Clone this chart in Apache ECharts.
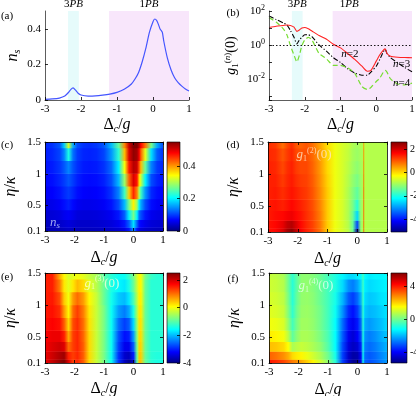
<!DOCTYPE html>
<html>
<head>
<meta charset="utf-8">
<script src="https://cdn.jsdelivr.net/npm/echarts@6/dist/echarts.min.js"></script>
</head>
<body style="margin:0;background:#fff">
<div id="container" style="width:416px;height:396px"></div>
<script>
// ---------- (a) n_s versus detuning ----------
var aX = [-3,-2.8,-2.6,-2.45,-2.35,-2.28,-2.22,-2.15,-2.08,-2,-1.8,-1.6,-1.4,-1.2,-1,-0.8,-0.6,-0.5,-0.4,-0.3,-0.2,-0.1,0,0.05,0.1,0.15,0.2,0.23,0.26,0.3,0.4,0.5,0.6,0.7,0.8,0.9,1];
var aN = [0.004,0.006,0.011,0.022,0.042,0.06,0.068,0.055,0.038,0.028,0.022,0.023,0.027,0.033,0.043,0.06,0.09,0.118,0.155,0.215,0.29,0.38,0.44,0.455,0.447,0.425,0.397,0.39,0.38,0.33,0.235,0.17,0.125,0.098,0.078,0.062,0.05];

// ---------- (b) log10 g1^(n)(0) versus detuning ----------
var bX = [-3,-2.8,-2.6,-2.5,-2.4,-2.3,-2.22,-2.15,-2.08,-2,-1.9,-1.8,-1.6,-1.4,-1.2,-1,-0.8,-0.6,-0.4,-0.25,-0.15,0,0.1,0.2,0.25,0.3,0.4,0.6,0.8,1];
var bLog2 = [1.03,1.1,1.15,1.18,1.15,1.05,0.8,0.88,1.0,1.03,0.95,0.82,0.56,0.35,0.04,-0.17,-0.5,-0.85,-1.25,-1.55,-1.5,-0.95,-0.58,-0.3,-0.23,-0.5,-0.66,-0.72,-0.74,-0.75];
var bLog3 = [1.71,1.5,1.3,1.18,0.85,0.45,0.06,0.3,0.45,0.6,0.6,0.49,0.0,-0.35,-0.75,-1.03,-1.4,-1.65,-1.78,-1.78,-1.6,-1.25,-0.85,-0.4,-0.25,-0.5,-0.75,-1.05,-1.33,-1.58];
var bLog4 = [1.61,1.35,0.95,0.6,-0.04,-0.6,-1.0,-0.6,-0.04,0.3,0.45,0.3,-0.5,-0.8,-1.2,-1.2,-1.35,-1.67,-2.45,-2.62,-2.5,-2.15,-1.95,-1.6,-1.5,-1.6,-2.0,-2.3,-2.35,-2.25];

// shaded resonance windows
var pb3 = [-2.36, -2.06];
var pb1 = [-1.22, 1];

// ---------- maps (c)-(f): rows are eta/kappa, columns are detuning ----------
var ETA = [0.1,0.2,0.35,0.5,0.7,0.9,1.1,1.3,1.5];
var HX = [-3,-2.75,-2.5,-2.35,-2.2,-2.05,-1.9,-1.7,-1.5,-1.25,-1,-0.75,-0.5,-0.3,-0.15,0,0.12,0.19,0.22,0.25,0.4,0.6,0.8,1];

var nsMap = [
  [0.03,0.03,0.032,0.035,0.04,0.035,0.033,0.033,0.034,0.035,0.037,0.04,0.045,0.055,0.08,0.15,0.075,0.055,0.052,0.05,0.042,0.038,0.035,0.034],
  [0.035,0.036,0.04,0.045,0.05,0.045,0.04,0.04,0.04,0.042,0.045,0.05,0.06,0.08,0.12,0.19,0.12,0.08,0.075,0.07,0.058,0.048,0.045,0.043],
  [0.045,0.047,0.052,0.06,0.065,0.058,0.05,0.048,0.048,0.05,0.055,0.062,0.08,0.12,0.2,0.27,0.2,0.13,0.12,0.11,0.08,0.06,0.055,0.052],
  [0.055,0.058,0.065,0.075,0.085,0.072,0.062,0.058,0.058,0.06,0.065,0.078,0.11,0.17,0.27,0.35,0.29,0.2,0.18,0.16,0.11,0.075,0.065,0.06],
  [0.065,0.068,0.078,0.09,0.1,0.088,0.075,0.068,0.066,0.068,0.075,0.095,0.14,0.24,0.37,0.46,0.41,0.3,0.27,0.24,0.15,0.09,0.075,0.07],
  [0.072,0.076,0.088,0.1,0.115,0.1,0.085,0.075,0.073,0.075,0.085,0.11,0.17,0.29,0.43,0.5,0.47,0.37,0.34,0.31,0.2,0.11,0.088,0.078],
  [0.078,0.083,0.097,0.115,0.14,0.112,0.094,0.082,0.08,0.083,0.095,0.125,0.2,0.34,0.47,0.52,0.51,0.44,0.41,0.38,0.26,0.14,0.1,0.088],
  [0.083,0.09,0.105,0.14,0.22,0.13,0.1,0.088,0.086,0.09,0.105,0.15,0.23,0.38,0.5,0.54,0.53,0.49,0.46,0.43,0.33,0.19,0.12,0.095],
  [0.088,0.095,0.115,0.18,0.32,0.16,0.11,0.095,0.092,0.098,0.115,0.17,0.26,0.41,0.51,0.55,0.55,0.52,0.5,0.48,0.42,0.27,0.16,0.11]
];
var g2Map = [
  [1.5,1.6,1.9,2.3,2.5,2.1,1.7,1.4,1.2,0.8,0.1,-0.4,-0.6,-0.8,-1.4,-4.8,-1.1,-0.9,0.9,-0.8,-0.85,-0.85,-0.85,-0.85],
  [1.5,1.6,1.8,2.1,2.2,1.9,1.6,1.35,1.15,0.75,0.1,-0.4,-0.6,-0.85,-1.4,-3.6,-1.1,-0.9,0.9,-0.8,-0.85,-0.85,-0.85,-0.85],
  [1.45,1.55,1.6,1.7,1.75,1.6,1.5,1.3,1.1,0.7,0.1,-0.4,-0.6,-0.9,-1.4,-2.5,-1.1,-0.9,0.9,-0.8,-0.85,-0.85,-0.85,-0.85],
  [1.45,1.5,1.4,1.5,1.6,1.5,1.4,1.25,1.05,0.65,0.1,-0.4,-0.6,-0.9,-1.3,-1.9,-1.1,-0.9,0.9,-0.8,-0.85,-0.85,-0.85,-0.85],
  [1.4,1.45,1.3,1.4,1.5,1.4,1.3,1.2,1.0,0.6,0.1,-0.4,-0.6,-0.9,-1.2,-1.5,-1.1,-0.9,0.9,-0.8,-0.85,-0.85,-0.85,-0.85],
  [1.4,1.4,1.2,1.35,1.45,1.3,1.2,1.15,0.95,0.55,0.05,-0.4,-0.6,-0.85,-1.1,-1.3,-1.05,-0.9,0.8,-0.8,-0.85,-0.85,-0.85,-0.85],
  [1.4,1.35,1.1,1.3,1.4,1.2,1.1,1.1,0.9,0.5,0.0,-0.4,-0.6,-0.8,-1.0,-1.15,-1.0,-0.9,0.7,-0.8,-0.85,-0.85,-0.85,-0.85],
  [1.35,1.3,1.0,1.2,1.35,1.1,1.0,1.05,0.85,0.45,0.0,-0.4,-0.6,-0.75,-0.95,-1.05,-0.95,-0.9,0.6,-0.8,-0.85,-0.85,-0.85,-0.85],
  [1.3,1.2,0.8,1.1,1.3,1.0,0.9,1.0,0.8,0.4,-0.05,-0.4,-0.6,-0.7,-0.9,-1.0,-0.9,-0.9,0.5,-0.8,-0.85,-0.85,-0.85,-0.85]
];
var g3Map = [
  [1.8,2.05,2.35,2.5,1.9,1.3,1.45,1.1,0.3,-0.3,-0.8,-1.5,-2.9,-3.6,-3.9,-3.5,-1.0,0.4,0.5,0.4,-0.9,-1.3,-1.4,-1.4],
  [1.8,2.0,2.2,2.3,1.5,1.3,1.45,1.1,0.3,-0.3,-0.8,-1.5,-2.9,-3.5,-3.6,-3.0,-0.9,0.35,0.45,0.35,-0.9,-1.3,-1.35,-1.35],
  [1.75,1.9,2.0,1.9,1.0,1.3,1.45,1.1,0.3,-0.3,-0.8,-1.5,-2.8,-3.3,-3.3,-2.6,-0.8,0.3,0.4,0.3,-0.9,-1.3,-1.3,-1.3],
  [1.7,1.8,1.8,1.5,0.6,1.3,1.45,1.05,0.3,-0.3,-0.8,-1.5,-2.7,-3.1,-3.0,-2.2,-0.7,0.25,0.35,0.25,-0.9,-1.3,-1.3,-1.3],
  [1.6,1.7,1.6,1.1,0.3,1.2,1.4,1.0,0.25,-0.3,-0.8,-1.5,-2.5,-2.8,-2.6,-1.8,-0.6,0.2,0.3,0.2,-0.9,-1.3,-1.3,-1.3],
  [1.55,1.6,1.4,0.7,0.1,1.0,1.3,0.9,0.2,-0.3,-0.8,-1.5,-2.2,-2.4,-2.1,-1.4,-0.5,0.15,0.25,0.15,-0.9,-1.3,-1.3,-1.3],
  [1.5,1.55,1.2,0.4,0.0,0.7,1.0,0.7,0.1,-0.3,-0.9,-1.45,-1.9,-2.0,-1.7,-1.1,-0.4,0.1,0.2,0.1,-0.9,-1.3,-1.3,-1.3],
  [1.5,1.5,0.9,0.2,-0.1,0.2,0.5,0.3,-0.1,-0.4,-0.9,-1.4,-1.6,-1.7,-1.4,-0.9,-0.3,0.1,0.15,0.05,-0.9,-1.3,-1.3,-1.3],
  [1.5,1.5,0.6,0.1,-0.2,-0.1,0.0,-0.1,-0.3,-0.5,-1.0,-1.3,-1.5,-1.5,-1.2,-0.8,-0.2,0.1,0.1,0.0,-0.8,-1.2,-1.3,-1.3]
];
var g4Map = [
  [4.0,3.8,3.5,3.2,2.9,2.7,2.4,2.0,1.6,1.0,0.3,-0.8,-3.3,-4.6,-5.1,-5.2,-4.2,-1.0,-2.3,-2.9,-3.1,-2.9,-2.6,-2.3],
  [3.2,3.0,2.7,2.4,1.9,1.7,1.6,1.3,1.0,0.6,0.0,-1.0,-3.3,-4.5,-4.9,-4.8,-4.0,-1.0,-2.2,-2.8,-3.0,-2.8,-2.5,-2.2],
  [2.2,2.1,1.9,1.5,0.6,0.8,0.9,0.8,0.6,0.3,-0.3,-1.2,-3.2,-4.3,-4.6,-4.4,-3.6,-0.9,-2.0,-2.6,-2.8,-2.6,-2.3,-2.0],
  [1.7,1.6,1.4,0.8,-0.2,0.3,0.6,0.6,0.45,0.1,-0.4,-1.2,-3.0,-4.1,-4.4,-4.0,-3.2,-0.8,-1.8,-2.4,-2.6,-2.4,-2.1,-1.8],
  [1.4,1.3,1.1,0.4,-0.5,0.1,0.5,0.5,0.35,0.0,-0.5,-1.2,-2.8,-3.8,-4.1,-3.7,-2.8,-0.7,-1.6,-2.1,-2.3,-2.1,-1.9,-1.6],
  [1.2,1.1,0.9,0.2,-0.7,0.0,0.4,0.45,0.3,0.0,-0.5,-1.1,-2.4,-3.5,-3.8,-3.3,-2.4,-0.6,-1.4,-1.8,-2.0,-1.9,-1.7,-1.5],
  [1.1,1.0,0.8,0.1,-0.8,-0.1,0.35,0.4,0.25,-0.1,-0.5,-1.0,-2.0,-3.0,-3.3,-2.8,-2.0,-0.5,-1.2,-1.6,-1.8,-1.7,-1.5,-1.4],
  [1.0,0.9,0.7,0.0,-0.8,-0.2,0.3,0.35,0.2,-0.1,-0.5,-0.9,-1.6,-2.4,-2.6,-2.2,-1.6,-0.5,-1.1,-1.4,-1.6,-1.5,-1.4,-1.3],
  [0.9,0.8,0.6,0.0,-0.7,-0.2,0.3,0.3,0.2,-0.1,-0.5,-0.9,-1.3,-1.6,-1.6,-1.4,-1.2,-0.5,-0.9,-1.2,-1.4,-1.3,-1.3,-1.2]
];

// colour bar ranges and tick labels
var cRange = [0, 0.55], dRange = [-5.1, 2.6], eRange = [-4, 2.5], fRange = [-5.3, 5.6];
var cTicks = [0, 0.2, 0.4], dTicks = [-4, -2, 0, 2], eTicks = [-4, -2, 0, 2], fTicks = [-4, 0, 4];
var dTickX = [-3, -2, -1, 0, 1];
var etaTicks = [0.1, 0.5, 1, 1.5];
var nsTicks = [0, 0.2, 0.4];

var FONT = 'Liberation Serif';

function jet(t) {
  t = Math.max(0, Math.min(1, t));
  function c(v) { return Math.round(Math.max(0, Math.min(1, v)) * 255); }
  return 'rgb(' + c(1.5 - Math.abs(4 * t - 3)) + ',' + c(1.5 - Math.abs(4 * t - 2)) + ',' + c(1.5 - Math.abs(4 * t - 1)) + ')';
}

var chart = echarts.init(document.getElementById('container'));

var grids = [
  { left: 45, top: 11, width: 144, height: 89 },
  { left: 269, top: 11, width: 143, height: 89 },
  { left: 45, top: 142, width: 118, height: 89 },
  { left: 167, top: 142, width: 13, height: 89 },
  { left: 268, top: 142, width: 119, height: 90 },
  { left: 391, top: 142, width: 16, height: 90 },
  { left: 45, top: 273, width: 118, height: 90 },
  { left: 167, top: 273, width: 13, height: 90 },
  { left: 269, top: 273, width: 118, height: 90 },
  { left: 391, top: 273, width: 16, height: 90 }
];
grids.forEach(function (g) { g.outerBoundsMode = 'none'; g.containLabel = false; });

var lbl = { fontFamily: FONT, fontSize: 11, color: '#000', margin: 4 };
var nameRich = {
  i: { fontFamily: FONT, fontSize: 16, fontStyle: 'italic', color: '#000' },
  s: { fontFamily: FONT, fontSize: 10, fontStyle: 'italic', color: '#000', verticalAlign: 'top', padding: [9, 0, 0, 0] }
};
var nameStyle = { fontFamily: FONT, fontSize: 16, color: '#000', rich: nameRich };

function ticks(vals) {
  return { show: true, inside: true, length: 3, customValues: vals, lineStyle: { color: '#000', width: 0.8 } };
}
function line(col) { return { show: true, onZero: false, lineStyle: { color: col || '#000', width: 0.8 } }; }

function xDelta(gi, gap) {
  return {
    gridIndex: gi, type: 'value', min: -3, max: 1, z: 5,
    axisLine: line(), axisTick: ticks(dTickX),
    axisLabel: Object.assign({ customValues: dTickX }, lbl),
    splitLine: { show: false },
    name: 'Δ{s|c}/{i|g}', nameLocation: 'middle', nameGap: gap, nameTextStyle: nameStyle
  };
}
function yEta(gi) {
  return {
    gridIndex: gi, type: 'value', min: 0.1, max: 1.5, z: 5,
    axisLine: line(), axisTick: ticks(etaTicks),
    axisLabel: Object.assign({ customValues: etaTicks }, lbl),
    splitLine: { show: false },
    name: '{i|η}/{i|κ}', nameLocation: 'middle', nameRotate: 90, nameGap: 26, nameTextStyle: nameStyle
  };
}
function xHidden(gi) {
  return { gridIndex: gi, type: 'value', min: 0, max: 1, show: false };
}
function yBar(gi, range, tv) {
  return {
    gridIndex: gi, type: 'value', position: 'right', min: range[0], max: range[1], z: 5,
    axisLine: { show: false, onZero: false }, axisTick: ticks(tv),
    axisLabel: Object.assign({ customValues: tv }, lbl, { fontSize: 10, margin: 3 }),
    splitLine: { show: false }
  };
}
function xTop(gi) {
  return { gridIndex: gi, type: 'value', position: 'top', min: -3, max: 1, z: 5,
    axisLine: line(), axisTick: ticks(dTickX), axisLabel: { show: false }, splitLine: { show: false } };
}
function yRight(gi) {
  return { gridIndex: gi, type: 'value', position: 'right', min: 0.1, max: 1.5, z: 5,
    axisLine: line(), axisTick: ticks(etaTicks), axisLabel: { show: false }, splitLine: { show: false } };
}

var xAxes = [
  xDelta(0, 15), xDelta(1, 15),
  xDelta(2, 17), xHidden(3), xDelta(4, 17), xHidden(5),
  xDelta(6, 16), xHidden(7), xDelta(8, 17), xHidden(9),
  xTop(2), xTop(4), xTop(6), xTop(8)
];
xAxes[0].axisLine = line('#333'); xAxes[1].axisLine = line('#333');

var yAxes = [
  {
    gridIndex: 0, type: 'value', min: 0, max: 0.5, z: 5,
    axisLine: line('#333'), axisTick: ticks(nsTicks),
    axisLabel: Object.assign({ customValues: nsTicks }, lbl),
    splitLine: { show: false },
    name: '{i|n}{s|s}', nameLocation: 'middle', nameRotate: 90, nameGap: 23, nameTextStyle: nameStyle
  },
  {
    gridIndex: 1, type: 'log', min: Math.pow(10, -3.24), max: 100, z: 5,
    axisLine: line('#333'),
    axisTick: { show: true, inside: true, length: 3, lineStyle: { color: '#000', width: 0.8 } },
    axisLabel: Object.assign({}, lbl, {
      formatter: function (v) {
        var l = Math.log10(v), e = Math.round(l);
        return (Math.abs(l - e) < 1e-6 && e % 2 === 0) ? '10{sup|' + e + '}' : '';
      },
      rich: { sup: { fontFamily: FONT, fontSize: 8, color: '#000', verticalAlign: 'top', padding: [0, 0, 6, 0] } }
    }),
    splitLine: { show: false },
    name: '{i|g}{s|1}{p|(}{pi|n}{p|)}(0)', nameLocation: 'middle', nameRotate: 90, nameGap: 29,
    nameTextStyle: { fontFamily: FONT, fontSize: 14, color: '#000', rich: {
      i: { fontFamily: FONT, fontSize: 14, fontStyle: 'italic', color: '#000' },
      s: { fontFamily: FONT, fontSize: 9, color: '#000', verticalAlign: 'top', padding: [8, 0, 0, 0] },
      p: { fontFamily: FONT, fontSize: 9, color: '#000', verticalAlign: 'top', padding: [0, 0, 7, 0] },
      pi: { fontFamily: FONT, fontSize: 9, fontStyle: 'italic', color: '#000', verticalAlign: 'top', padding: [0, 0, 7, 0] }
    } }
  },
  yEta(2), yBar(3, cRange, cTicks), yEta(4), yBar(5, dRange, dTicks),
  yEta(6), yBar(7, eRange, eTicks), yEta(8), yBar(9, fRange, fTicks),
  yRight(2), yRight(4), yRight(6), yRight(8)
];
xAxes.forEach(function (a) { if (a.axisLine) a.axisLine.onZero = false; else a.axisLine = { onZero: false }; });
yAxes.forEach(function (a) { if (a.axisLine) a.axisLine.onZero = false; else a.axisLine = { onZero: false }; });

function bandArea(labelOffset) {
  var pbLabel = {
    show: true, position: 'top', distance: 1, color: '#000', fontFamily: FONT, fontSize: 11,
    rich: { i: { fontFamily: FONT, fontSize: 11, fontStyle: 'italic', color: '#000' } }
  };
  return {
    silent: true,
    data: [
      [{ xAxis: pb3[0], itemStyle: { color: '#e6fbfb' }, label: Object.assign({}, pbLabel, { formatter: '3{i|PB}' }) }, { xAxis: pb3[1] }],
      [{ xAxis: pb1[0], itemStyle: { color: '#f8e6fb' }, label: Object.assign({}, pbLabel, { formatter: '1{i|PB}', offset: [labelOffset, 0] }) }, { xAxis: pb1[1] }]
    ]
  };
}

function nLabel(txt, x, lg) {
  return {
    symbol: 'circle', symbolSize: 0, silent: true,
    label: { show: true, position: 'inside', formatter: '{i|n}=' + txt, color: '#000', fontFamily: FONT, fontSize: 11,
      rich: { i: { fontFamily: FONT, fontSize: 11, fontStyle: 'italic', color: '#000' } } },
    data: [{ coord: [x, Math.pow(10, lg)] }]
  };
}

function toPairs(xs, ys, f) {
  return xs.map(function (x, i) { return [x, f ? f(ys[i]) : ys[i]]; });
}
function pow10(v) { return Math.pow(10, v); }

function mapSeries(gi, rows, range) {
  return {
    type: 'custom', xAxisIndex: gi, yAxisIndex: gi, silent: true, z: 2,
    data: ETA.map(function (e, i) { return [HX[0], e, i]; }),
    renderItem: function (params, api) {
      var i = api.value(2), n = ETA.length;
      var lo = i === 0 ? ETA[0] : (ETA[i - 1] + ETA[i]) / 2;
      var hi = i === n - 1 ? ETA[n - 1] : (ETA[i] + ETA[i + 1]) / 2;
      var p0 = api.coord([HX[0], hi]);
      var p1 = api.coord([HX[HX.length - 1], lo]);
      var span = HX[HX.length - 1] - HX[0];
      var stops = HX.map(function (x, j) {
        return { offset: (x - HX[0]) / span, color: jet((rows[i][j] - range[0]) / (range[1] - range[0])) };
      });
      return {
        type: 'rect',
        shape: { x: p0[0], y: p0[1] - (i === n - 1 ? 0 : 0.6), width: p1[0] - p0[0], height: p1[1] - p0[1] + (i === n - 1 ? 0 : 0.6) },
        style: { fill: { type: 'linear', x: 0, y: 0, x2: 1, y2: 0, colorStops: stops } }
      };
    }
  };
}

function barSeries(gi, range) {
  var stops = [];
  for (var k = 0; k <= 16; k++) stops.push({ offset: k / 16, color: jet(1 - k / 16) });
  return {
    type: 'custom', xAxisIndex: gi, yAxisIndex: gi, silent: true,
    data: [[0, range[0], range[1]]],
    renderItem: function (params, api) {
      var p0 = api.coord([0, api.value(2)]);
      var p1 = api.coord([1, api.value(1)]);
      return {
        type: 'rect',
        shape: { x: p0[0], y: p0[1], width: p1[0] - p0[0], height: p1[1] - p0[1] },
        style: { fill: { type: 'linear', x: 0, y: 0, x2: 0, y2: 1, colorStops: stops }, stroke: '#000', lineWidth: 0.6 }
      };
    }
  };
}

function tag(gi, x, y, text, col) {
  return {
    type: 'scatter', xAxisIndex: gi, yAxisIndex: gi, symbolSize: 0, silent: true, z: 6,
    data: [[x, y]],
    label: {
      show: true, position: 'inside', formatter: text, color: col, fontFamily: FONT, fontSize: 13,
      rich: {
        i: { fontFamily: FONT, fontSize: 13, fontStyle: 'italic', color: col },
        s: { fontFamily: FONT, fontSize: 8, color: col, verticalAlign: 'top', padding: [8, 0, 0, 0] },
        si: { fontFamily: FONT, fontSize: 9, fontStyle: 'italic', color: col, verticalAlign: 'top', padding: [7, 0, 0, 0] },
        p: { fontFamily: FONT, fontSize: 8, color: col, verticalAlign: 'top', padding: [0, 0, 7, 0] }
      }
    }
  };
}

var option = {
  animation: false,
  backgroundColor: '#fff',
  textStyle: { fontFamily: FONT },
  grid: grids,
  xAxis: xAxes,
  yAxis: yAxes,
  series: [
    {
      type: 'line', xAxisIndex: 0, yAxisIndex: 0, showSymbol: false, silent: true,
      data: toPairs(aX, aN), smooth: 0.2,
      lineStyle: { color: '#4455ff', width: 1.2 },
      markArea: bandArea(0)
    },
    {
      type: 'line', xAxisIndex: 1, yAxisIndex: 1, showSymbol: false, silent: true, z: 4,
      data: toPairs(bX, bLog2, pow10), smooth: 0.2,
      lineStyle: { color: '#ff2222', width: 1.1 },
      markArea: bandArea(-23),
      markLine: { silent: true, symbol: 'none', label: { show: false },
        lineStyle: { type: [1.5, 2], color: '#000', width: 0.9 }, data: [{ yAxis: 1 }] },
      markPoint: nLabel('2', -0.74, -0.53)
    },
    {
      type: 'line', xAxisIndex: 1, yAxisIndex: 1, showSymbol: false, silent: true, z: 3,
      data: toPairs(bX, bLog3, pow10), smooth: 0.2,
      lineStyle: { color: '#000', width: 1.1, type: [5, 2, 1.2, 2] },
      markPoint: nLabel('3', 0.71, -1.14)
    },
    {
      type: 'line', xAxisIndex: 1, yAxisIndex: 1, showSymbol: false, silent: true, z: 3,
      data: toPairs(bX, bLog4, pow10), smooth: 0.2,
      lineStyle: { color: '#77dd33', width: 1.2, type: [5, 3] },
      markPoint: nLabel('4', 0.71, -2.23)
    },
    mapSeries(2, nsMap, cRange), barSeries(3, cRange),
    mapSeries(4, g2Map, dRange), barSeries(5, dRange),
    mapSeries(6, g3Map, eRange), barSeries(7, eRange),
    mapSeries(8, g4Map, fRange), barSeries(9, fRange),
    tag(2, -2.66, 0.24, '{i|n}{si|s}', '#c8d2ff'),
    tag(4, -1.45, 1.3, '{i|g}{s|1}{p|(2)}(0)', '#ffe6c8'),
    tag(6, -1.07, 1.34, '{i|g}{s|1}{p|(3)}(0)', '#fbffd8'),
    tag(8, -1.41, 1.3, '{i|g}{s|1}{p|(4)}(0)', '#e8fff0')
  ],
  graphic: [
    ['(a)', 7, 16], ['(b)', 233, 13], ['(c)', 7, 145], ['(d)', 233, 145], ['(e)', 7, 277], ['(f)', 233, 279]
  ].map(function (t) {
    return { type: 'text', x: t[1], y: t[2], style: { text: t[0], fontFamily: FONT, fontSize: 11, fill: '#000', align: 'center', verticalAlign: 'middle' } };
  })
};

chart.setOption(option);
</script>
</body>
</html>
